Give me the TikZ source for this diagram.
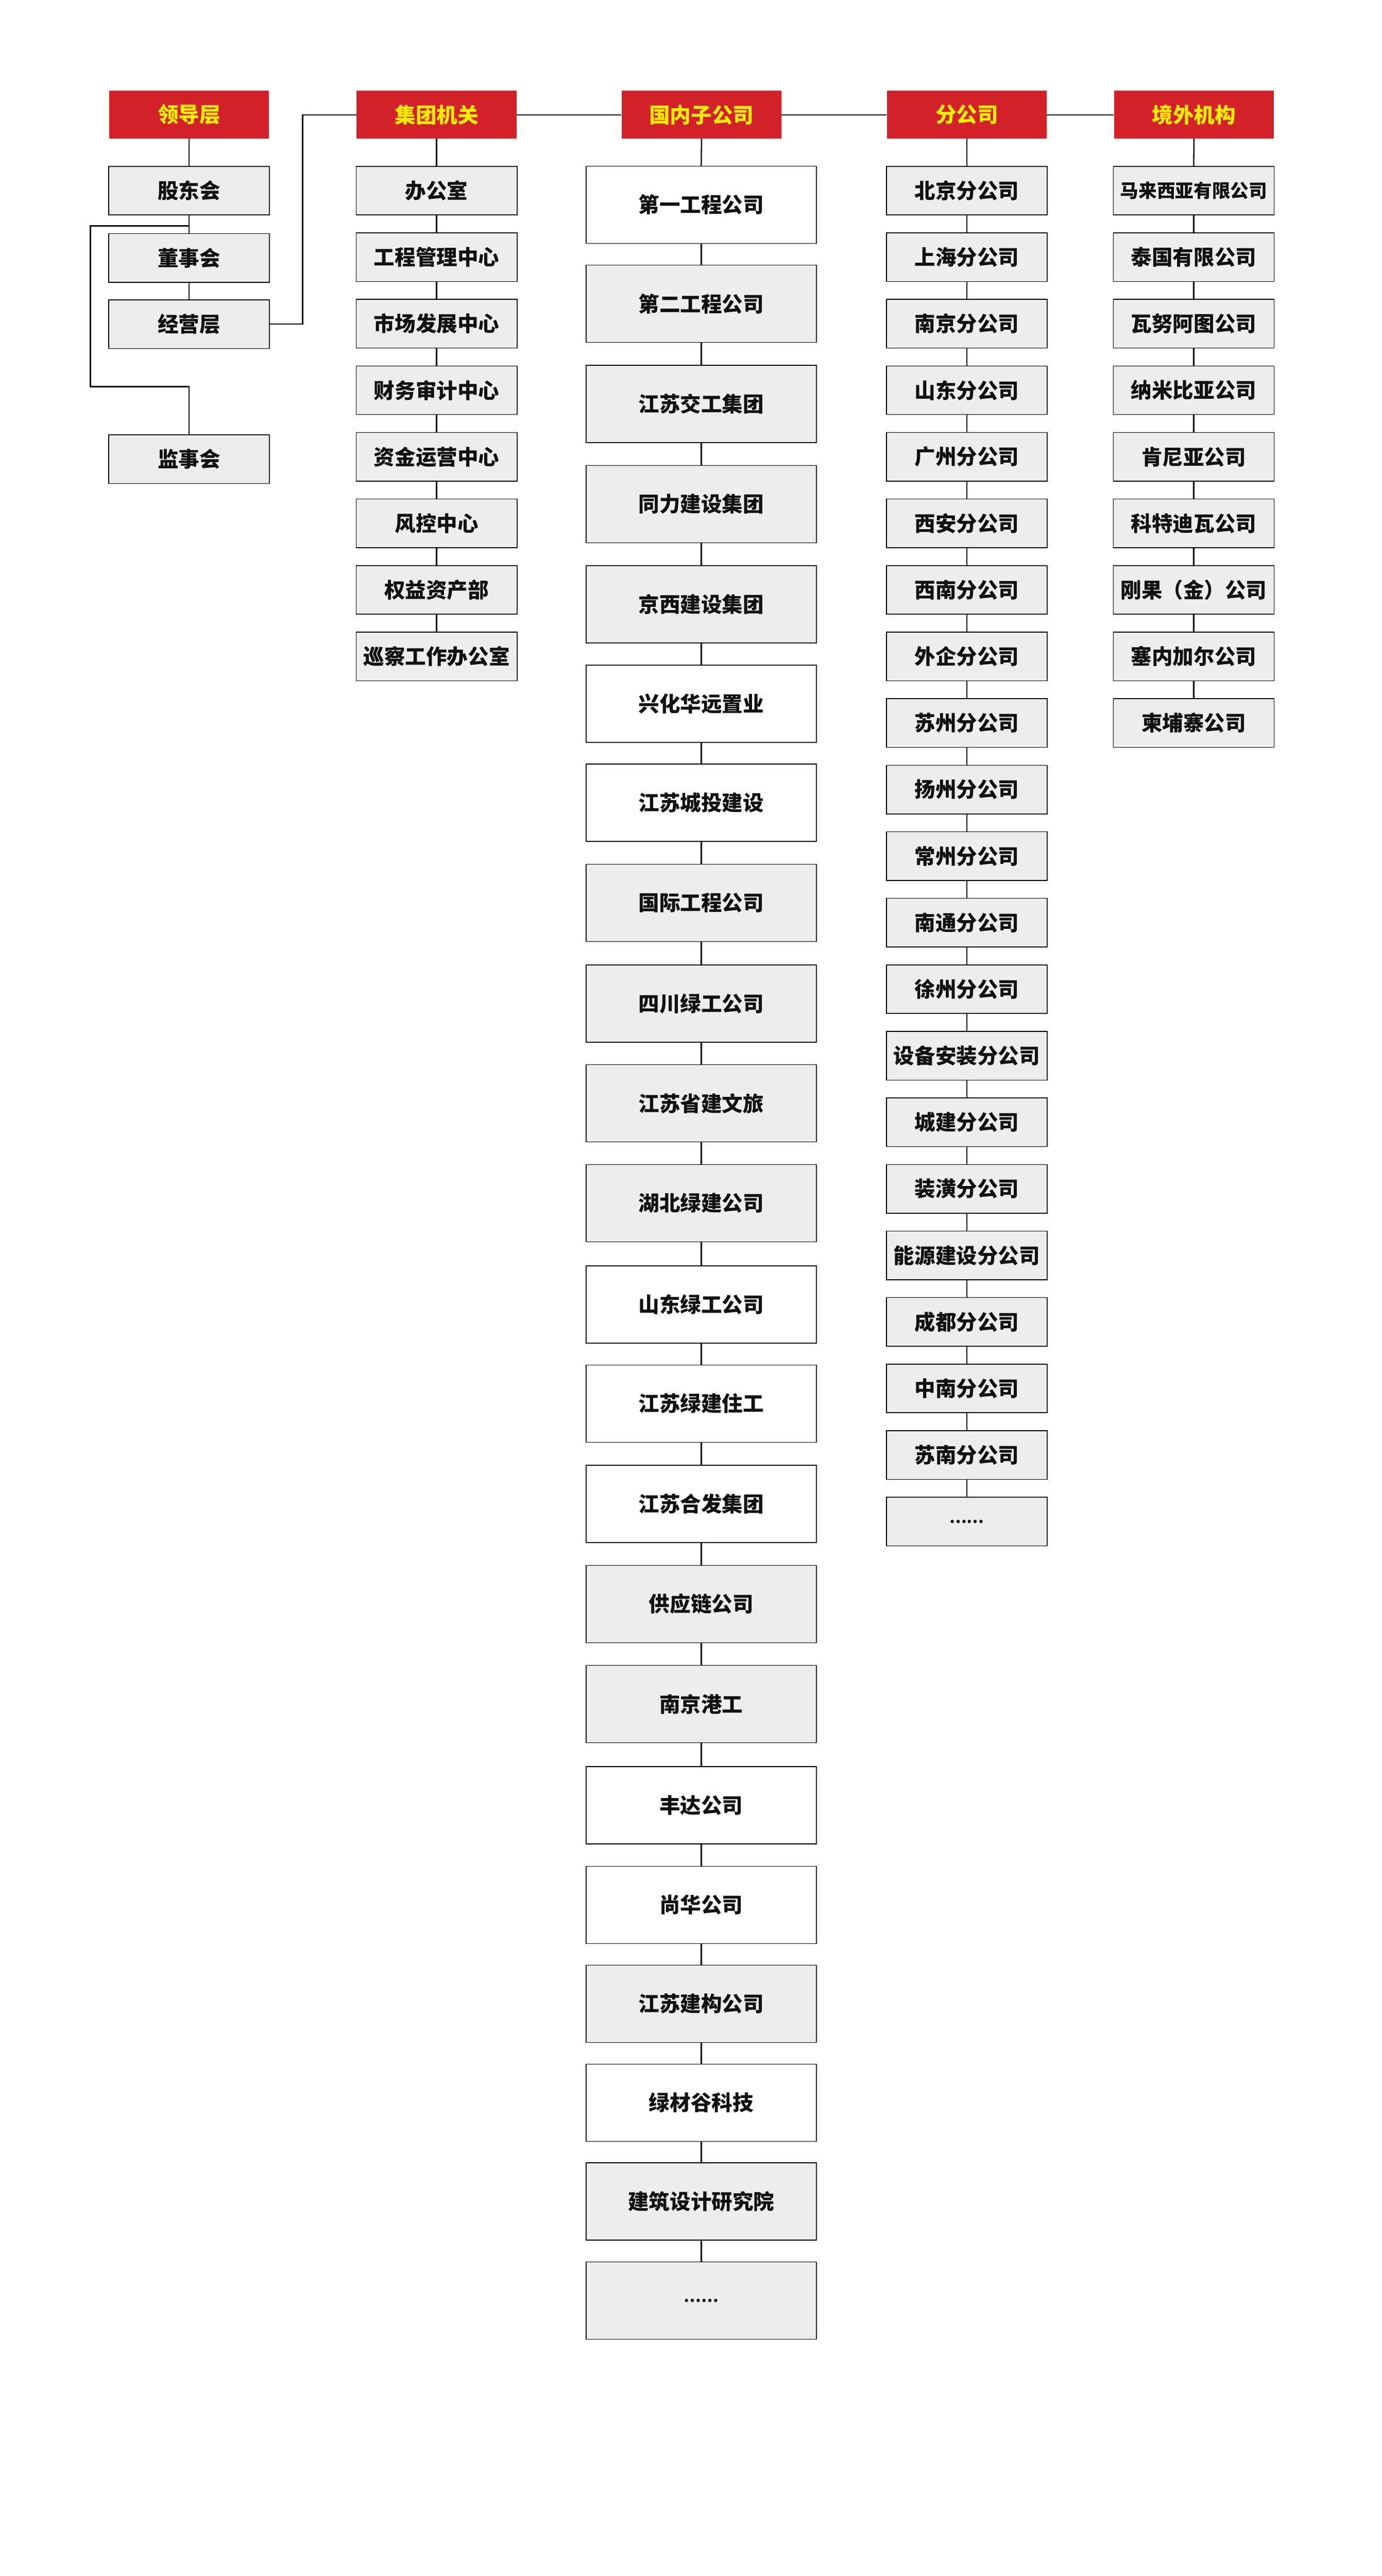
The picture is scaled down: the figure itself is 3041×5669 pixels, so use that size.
\documentclass[tikz,border=0pt]{standalone}
\usepackage{fontspec}
\newfontfamily\cjkblack{Noto Sans CJK SC Black}
\definecolor{hdrred}{RGB}{211,33,41}
\definecolor{hdryel}{RGB}{255,236,0}
\definecolor{boxgray}{RGB}{237,237,237}
\definecolor{txtblack}{RGB}{17,17,17}
\begin{document}
\begin{tikzpicture}[x=1pt,y=-1pt,
  hdr/.style={fill=hdrred, text=hdryel, minimum width=352pt, minimum height=105pt,
    inner sep=0pt, font=\cjkblack\fontsize{46}{50}\selectfont},
  sbox/.style={draw=black, line width=1.8pt, fill=boxgray, minimum width=354pt,
    minimum height=107pt, inner sep=0pt, text=txtblack,
    font=\cjkblack\fontsize{46}{50}\selectfont},
  bbox/.style={sbox, minimum width=507pt, minimum height=170pt},
  conn/.style={draw=black, line width=2.6pt}
]
\fill[white] (0,0) rectangle (3041,5669);
\useasboundingbox (0,0) rectangle (3041,5669);

% headers
\node[hdr] (hL) at (416,252.5) {领导层};
\node[hdr] (hJ) at (961,252.5) {集团机关};
\node[hdr] (hG) at (1544,252.5) {国内子公司};
\node[hdr] (hF) at (2128,252.5) {分公司};
\node[hdr] (hW) at (2628,252.5) {境外机构};

% leadership column
\node[sbox] (L0) at (416,419.5) {股东会};
\node[sbox] (L1) at (416,567.5) {董事会};
\node[sbox] (L2) at (416,713.5) {经营层};
\node[sbox] (L3) at (416,1010.5) {监事会};

\draw[conn] (hL.south) -- (L0.north);
\draw[conn] (L0.south) -- (L1.north);
\draw[conn] (L1.south) -- (L2.north);
\coordinate (br1) at (416,497);
\coordinate (br2) at (199,497);
\coordinate (br4) at (416,851);
\draw[conn] (br1) -- (br2) |- (br4) -- (L3.north);
\coordinate (k1) at (666,252.5);
\draw[conn] (L2.east) -| (k1) -- (hJ.west);

% header chain
\draw[conn] (hJ.east) -- (hG.west);
\draw[conn] (hG.east) -- (hF.west);
\draw[conn] (hF.east) -- (hW.west);

% group headquarters column
\foreach \t [count=\i from 0] in {办公室,工程管理中心,市场发展中心,财务审计中心,资金运营中心,风控中心,权益资产部,巡察工作办公室}{
  \node[sbox] (J\i) at (961,{419.5+146.45*\i}) {\t};
}
\draw[conn] (hJ.south) -- (J0.north);
\foreach \i in {1,...,7}{
  \pgfmathtruncatemacro\j{\i-1}
  \draw[conn] (J\j.south) -- (J\i.north);
}

% domestic subsidiaries column
\foreach \t/\f/\yy [count=\i from 0] in {
  第一工程公司/white/450.5, 第二工程公司/boxgray/668.5, 江苏交工集团/boxgray/889,
  同力建设集团/boxgray/1109.5, 京西建设集团/boxgray/1330, 兴化华远置业/white/1549,
  江苏城投建设/white/1766.5, 国际工程公司/boxgray/1987, 四川绿工公司/boxgray/2208.5,
  江苏省建文旅/boxgray/2428, 湖北绿建公司/boxgray/2648, 山东绿工公司/white/2870.5,
  江苏绿建住工/white/3089, 江苏合发集团/white/3309.5, 供应链公司/boxgray/3530,
  南京港工/boxgray/3750, 丰达公司/white/3973, 尚华公司/white/4192,
  江苏建构公司/boxgray/4410, 绿材谷科技/white/4627.5, 建筑设计研究院/boxgray/4844.5}{
  \node[bbox, fill=\f] (G\i) at (1543.5,\yy) {\t};
}
\node[bbox] (G21) at (1543.5,5063) {\fontsize{34}{38}\selectfont ……};
\draw[conn] (hG.south) -- (G0.north);
\foreach \i in {1,...,21}{
  \pgfmathtruncatemacro\j{\i-1}
  \draw[conn] (G\j.south) -- (G\i.north);
}

% branch companies column
\foreach \t [count=\i from 0] in {北京分公司,上海分公司,南京分公司,山东分公司,广州分公司,西安分公司,西南分公司,外企分公司,苏州分公司,扬州分公司,常州分公司,南通分公司,徐州分公司,设备安装分公司,城建分公司,装潢分公司,能源建设分公司,成都分公司,中南分公司,苏南分公司}{
  \node[sbox] (F\i) at (2128,{419.5+146.45*\i}) {\t};
}
\node[sbox] (F20) at (2128,{419.5+146.45*20}) {\fontsize{34}{38}\selectfont ……};
\draw[conn] (hF.south) -- (F0.north);
\foreach \i in {1,...,20}{
  \pgfmathtruncatemacro\j{\i-1}
  \draw[conn] (F\j.south) -- (F\i.north);
}

% overseas column
\node[sbox] (W0) at (2627.5,419.5) {\fontsize{40.5}{44}\selectfont 马来西亚有限公司};
\foreach \t [count=\i from 1] in {泰国有限公司,瓦努阿图公司,纳米比亚公司,肯尼亚公司,科特迪瓦公司,刚果（金）公司,塞内加尔公司,柬埔寨公司}{
  \node[sbox] (W\i) at (2627.5,{419.5+146.45*\i}) {\t};
}
\draw[conn] (hW.south) -- (W0.north);
\foreach \i in {1,...,8}{
  \pgfmathtruncatemacro\j{\i-1}
  \draw[conn] (W\j.south) -- (W\i.north);
}
\end{tikzpicture}
\end{document}
